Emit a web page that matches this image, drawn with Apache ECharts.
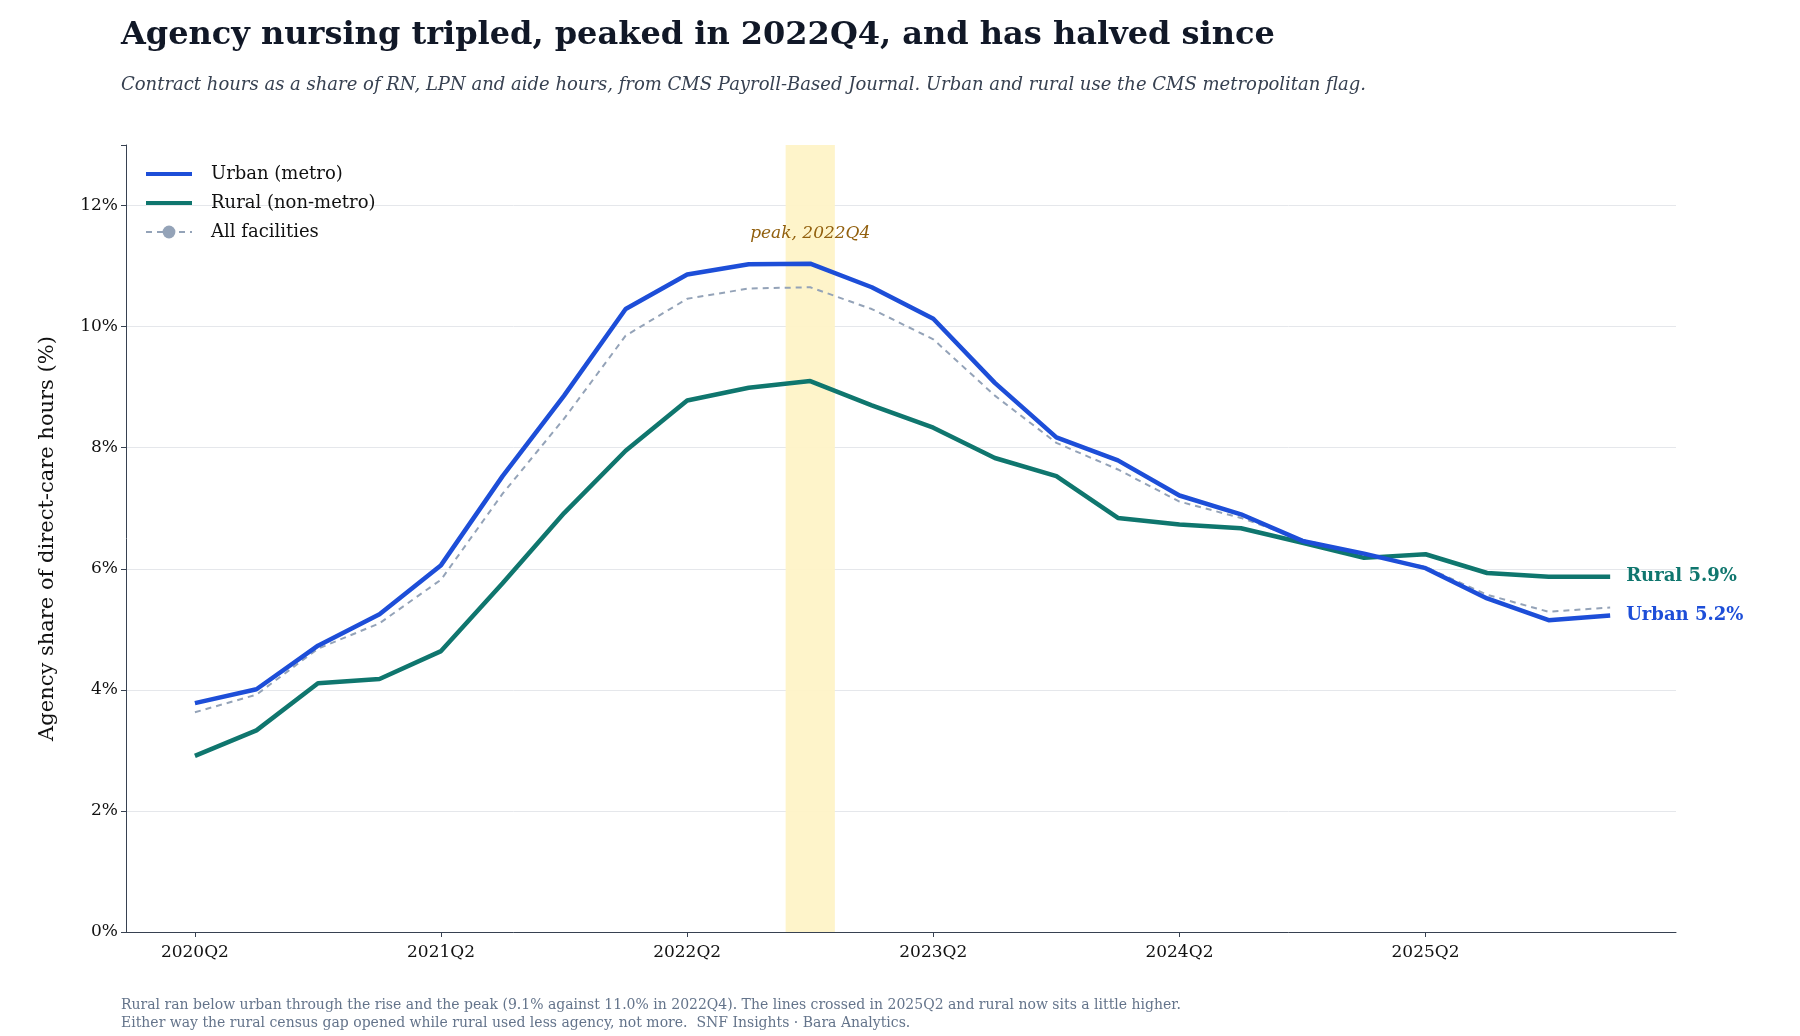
<!DOCTYPE html>
<html>
<head>
<meta charset="utf-8">
<script src="https://cdn.jsdelivr.net/npm/echarts@6/dist/echarts.min.js"></script>
<style>html,body{margin:0;padding:0;background:#fff}#chart{width:1800px;height:1036px}</style>
</head>
<body>
<div id="chart"></div>
<script>
var quarters = ['2020Q2','2020Q3','2020Q4','2021Q1','2021Q2','2021Q3','2021Q4','2022Q1','2022Q2','2022Q3','2022Q4','2023Q1',
    '2023Q2','2023Q3','2023Q4','2024Q1','2024Q2','2024Q3','2024Q4','2025Q1','2025Q2','2025Q3','2025Q4','2026Q1'];
var urban = [3.78,4.01,4.73,5.25,6.06,7.53,8.86,10.29,10.86,11.03,11.04,10.65,10.13,9.07,8.17,7.79,7.21,6.90,6.46,6.25,6.01,5.51,5.15,5.23];
var rural = [2.91,3.33,4.11,4.18,4.64,5.76,6.92,7.95,8.78,8.99,9.10,8.70,8.33,7.83,7.53,6.84,6.73,6.67,6.43,6.18,6.24,5.93,5.87,5.87];
var allFac = [3.63,3.92,4.68,5.10,5.82,7.24,8.48,9.85,10.46,10.63,10.65,10.29,9.79,8.86,8.08,7.64,7.11,6.84,6.48,6.24,6.03,5.57,5.29,5.36];
var tickIdx = [0,4,8,12,16,20];
var peakIdx = 10;

function pts(arr) {
    return arr.map(function (v, i) { return [i, v]; });
}
var font = 'DejaVu Serif';
var chart = echarts.init(document.getElementById('chart'));
chart.setOption({
    animation: false,
    textStyle: { fontFamily: font },
    title: [{
        text: 'Agency nursing tripled, peaked in 2022Q4, and has halved since',
        left: 116, top: 15,
        textStyle: { fontFamily: font, fontSize: 32, fontWeight: 'bold', color: '#111827' }
    }, {
        text: 'Contract hours as a share of RN, LPN and aide hours, from CMS Payroll-Based Journal. Urban and rural use the CMS metropolitan flag.',
        left: 116, top: 71,
        textStyle: { fontFamily: font, fontSize: 18, fontStyle: 'italic', fontWeight: 'normal', color: '#374151' }
    }, {
        text: 'Rural ran below urban through the rise and the peak (9.1% against 11.0% in 2022Q4). The lines crossed in 2025Q2 and rural now sits a little higher.\nEither way the rural census gap opened while rural used less agency, not more.  SNF Insights · Bara Analytics.',
        left: 116, top: 991,
        textStyle: { fontFamily: font, fontSize: 14, fontWeight: 'normal', color: '#64748b', lineHeight: 18 }
    }],
    legend: {
        left: 140, top: 160, orient: 'vertical', itemGap: 11, itemWidth: 46, itemHeight: 16,
        textStyle: { fontFamily: font, fontSize: 18, color: '#111', padding: [0, 0, 0, 14] },
        data: [
            { name: 'Urban (metro)', icon: 'path://M0,6L46,6L46,10L0,10Z' },
            { name: 'Rural (non-metro)', icon: 'path://M0,6L46,6L46,10L0,10Z' },
            { name: 'All facilities' }
        ]
    },
    grid: { left: 126, right: 124, top: 145, bottom: 104 },
    xAxis: {
        type: 'value', min: -1.12, max: 24.07,
        splitLine: { show: false },
        axisLine: { lineStyle: { color: '#374151' } },
        axisTick: { show: true, customValues: tickIdx, lineStyle: { color: '#374151' } },
        axisLabel: {
            customValues: tickIdx, fontSize: 17, color: '#111', margin: 12,
            formatter: function (v) { return quarters[Math.round(v)]; }
        }
    },
    yAxis: {
        type: 'value', min: 0, max: 13, interval: 2,
        name: 'Agency share of direct-care hours (%)', nameLocation: 'middle', nameGap: 68,
        nameTextStyle: { fontFamily: font, fontSize: 21, color: '#111' },
        axisLine: { show: true, onZero: false, lineStyle: { color: '#374151' } },
        axisTick: { show: true, lineStyle: { color: '#374151' } },
        axisLabel: {
            fontSize: 17, color: '#111',
            formatter: function (v) { return v > 12 ? '' : v + '%'; }
        },
        splitLine: { showMaxLine: false, lineStyle: { color: '#e5e7eb' } }
    },
    series: [{
        name: 'Urban (metro)', type: 'line', data: pts(urban), symbol: 'none', z: 4,
        lineStyle: { color: '#1d4ed8', width: 4.5 }, itemStyle: { color: '#1d4ed8' },
        endLabel: { show: true, formatter: 'Urban 5.2%', color: '#1d4ed8', fontWeight: 'bold', fontSize: 18, distance: 16, fontFamily: font },
        markArea: {
            silent: true,
            itemStyle: { color: '#fef3c7', opacity: 0.95 },
            label: { show: true, position: 'insideTop', distance: 80, formatter: 'peak, 2022Q4', color: '#92600e', fontStyle: 'italic', fontSize: 17, fontFamily: font },
            data: [[{ xAxis: peakIdx - 0.4 }, { xAxis: peakIdx + 0.4 }]]
        }
    }, {
        name: 'Rural (non-metro)', type: 'line', data: pts(rural), symbol: 'none', z: 3,
        lineStyle: { color: '#0f766e', width: 4.5 }, itemStyle: { color: '#0f766e' },
        endLabel: { show: true, formatter: 'Rural 5.9%', color: '#0f766e', fontWeight: 'bold', fontSize: 18, distance: 16, fontFamily: font }
    }, {
        name: 'All facilities', type: 'line', data: pts(allFac), symbol: 'none', showSymbol: false, z: 2,
        lineStyle: { color: '#94a3b8', width: 2, type: [6, 5] }, itemStyle: { color: '#94a3b8' }
    }]
});
</script>
</body>
</html>
